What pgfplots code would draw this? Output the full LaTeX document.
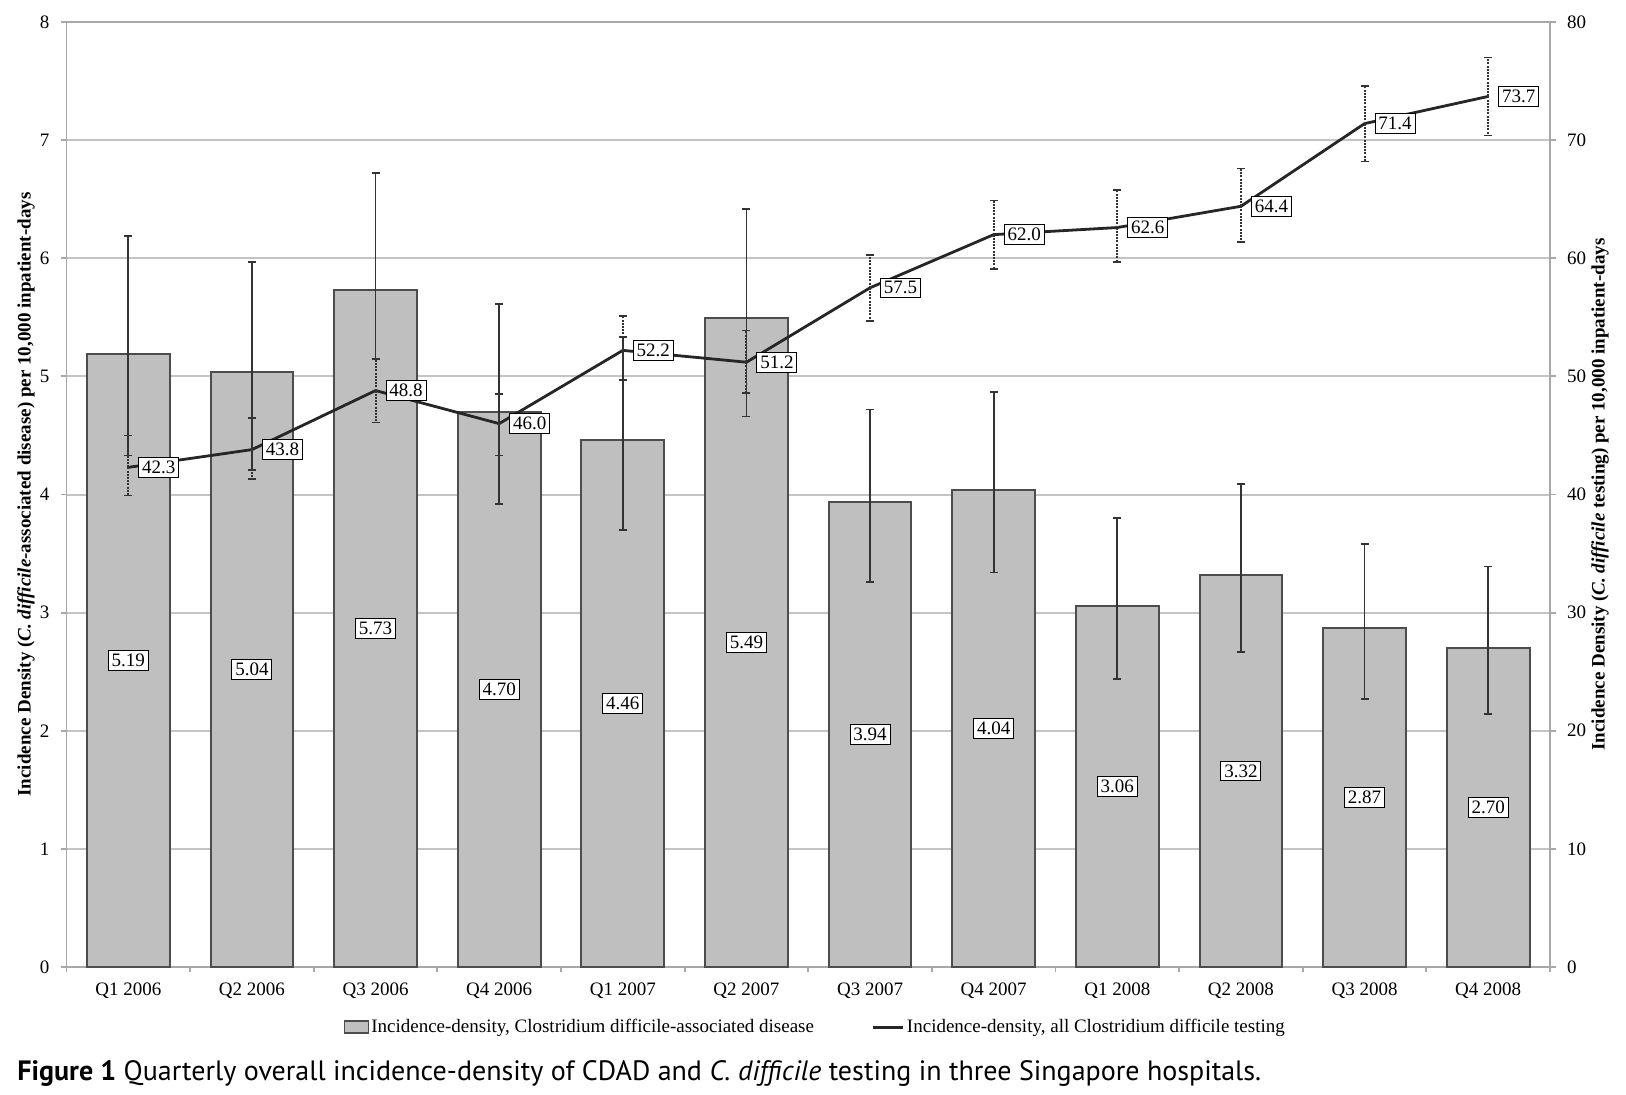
\documentclass[border=0pt]{standalone}
\usepackage{pgfplots}
\pgfplotsset{compat=1.18}
\usepackage{pgfplotstable}
\usepackage{fontspec}
\setmainfont{Liberation Serif}
\newfontfamily\capfont{PT Sans}

\definecolor{barfill}{HTML}{BFBFBF}
\definecolor{bardraw}{HTML}{4D4D4D}
\definecolor{gridgray}{HTML}{C4C4C4}
\definecolor{axgray}{HTML}{A8A8A8}
\definecolor{errc}{HTML}{333333}

% CDAD incidence density, with upper / lower error
\pgfplotstableread{
x  y    ep   em
0  5.19 1.00 0.86
1  5.04 0.93 0.83
2  5.73 0.99 0.58
3  4.70 0.91 0.78
4  4.46 0.87 0.76
5  5.49 0.93 0.83
6  3.94 0.78 0.68
7  4.04 0.83 0.70
8  3.06 0.74 0.62
9  3.32 0.77 0.65
10 2.87 0.71 0.60
11 2.70 0.69 0.56
}\bars

% all C. difficile testing
\pgfplotstableread{
x  y    ep  em
0  42.3 2.7 2.4
1  43.8 2.7 2.5
2  48.8 2.7 2.7
3  46.0 2.5 2.7
4  52.2 2.9 2.5
5  51.2 2.7 2.6
6  57.5 2.8 2.8
7  62.0 2.9 2.9
8  62.6 3.2 2.9
9  64.4 3.2 3.0
10 71.4 3.2 3.2
11 73.7 3.3 3.3
}\tests

\tikzset{lbl/.style={draw=black, line width=0.5pt, fill=white, inner sep=1.7pt,
    font=\fontsize{9.5}{11}\selectfont, text=black}}

\begin{document}
\begin{tikzpicture}
\pgfplotsset{
  /pgf/number format/assume math mode=true,
  every axis/.append style={
    scale only axis, width=741.75pt, height=472.5pt,
    xmin=-0.5, xmax=11.5,
    font=\fontsize{9.5}{11}\selectfont,
    axis line style={axgray, line width=0.9pt},
    tick style={axgray, line width=0.9pt},
    tick align=outside,
  },
}
\begin{axis}[
  ymin=0, ymax=8, ytick={0,...,8},
  ytick pos=left, xtick pos=left,
  major tick length=3pt,
  ymajorgrids, grid style={gridgray, line width=1pt},
  xtick={0,...,11},
  xticklabels={Q1 2006,Q2 2006,Q3 2006,Q4 2006,Q1 2007,Q2 2007,Q3 2007,Q4 2007,Q1 2008,Q2 2008,Q3 2008,Q4 2008},
  major x tick style={draw=none},
  minor xtick={-0.5,0.5,...,11.5},
  minor tick length=2.5pt,
  xticklabel style={yshift=-1.5pt},
  yticklabel style={xshift=-2pt},
  ylabel={Incidence Density (\textit{C. difficile}-associated disease) per 10,000 inpatient-days},
  ylabel style={at={(axis description cs:0,0.5)}, anchor=center, yshift=20.25pt,
    font=\bfseries\fontsize{9.5}{11}\selectfont},
]
\coordinate (BL) at (rel axis cs:0,0);
\addplot[ybar, bar width=0.67, fill=barfill, draw=bardraw, line width=1pt,
  error bars/.cd, y dir=both, y explicit,
  error bar style={errc, line width=0.9pt, solid},
  error mark options={errc, rotate=90, mark size=2pt, line width=0.9pt}]
  table[x=x, y=y, y error plus=ep, y error minus=em] {\bars};
% value boxes at half bar height
\addplot[only marks, mark=none, point meta=explicit,
  nodes near coords={\pgfmathprintnumber[fixed,fixed zerofill,precision=2]{\pgfplotspointmeta}},
  every node near coord/.append style={lbl, anchor=center}]
  table[x=x, y expr=\thisrow{y}/2, meta=y] {\bars};
\end{axis}

\begin{axis}[
  axis x line=none, axis y line*=right,
  ymin=0, ymax=80, ytick={0,10,...,80},
  major tick length=3pt,
  yticklabel style={xshift=2pt},
  ylabel={Incidence Density (\textit{C. difficile} testing) per 10,000 inpatient-days},
  ylabel style={at={(axis description cs:1,0.5)}, anchor=center, yshift=-25pt,
    font=\bfseries\fontsize{9.5}{11}\selectfont},
  legend style={at={(0.5,0)}, anchor=center, yshift=-30pt, xshift=3.5pt, draw=none, fill=none,
    font=\fontsize{9.5}{11}\selectfont, legend columns=2,
    /tikz/every even column/.append style={column sep=28pt},
    nodes={inner sep=1pt}},
]
\addlegendimage{legend image code/.code={\draw[fill=barfill, draw=bardraw, line width=0.8pt] (0pt,-3pt) rectangle (12pt,3pt);}}
\addlegendentry{Incidence-density, Clostridium difficile-associated disease}
\addlegendimage{legend image code/.code={\draw[black!85, line width=1.5pt] (0pt,0pt) -- (15pt,0pt);}}
\addlegendentry{Incidence-density, all Clostridium difficile testing}
\addplot[forget plot, black!85, line width=1.4pt, mark=none,
  point meta=explicit,
  nodes near coords={\pgfmathprintnumber[fixed,fixed zerofill,precision=1]{\pgfplotspointmeta}},
  every node near coord/.append style={lbl, anchor=west, xshift=5pt},
  error bars/.cd, y dir=both, y explicit,
  error bar style={errc, line width=1pt, dash pattern=on 1pt off 0.6pt},
  error mark options={errc, rotate=90, mark size=2pt, line width=0.8pt, solid}]
  table[x=x, y=y, y error plus=ep, y error minus=em, meta=y] {\tests};
\end{axis}

\node[anchor=base west, inner sep=0pt, font=\capfont\fontsize{14}{16}\selectfont]
  at ([xshift=-24.75pt, yshift=-56.5pt]BL)
  {{\bfseries Figure 1} Quarterly overall incidence-density of CDAD and \textit{C. difficile} testing in three Singapore hospitals.};

\pgfresetboundingbox
\path ([xshift=-33.25pt, yshift=-63.5pt]BL) rectangle ++(813pt,547pt);
\end{tikzpicture}
\end{document}
